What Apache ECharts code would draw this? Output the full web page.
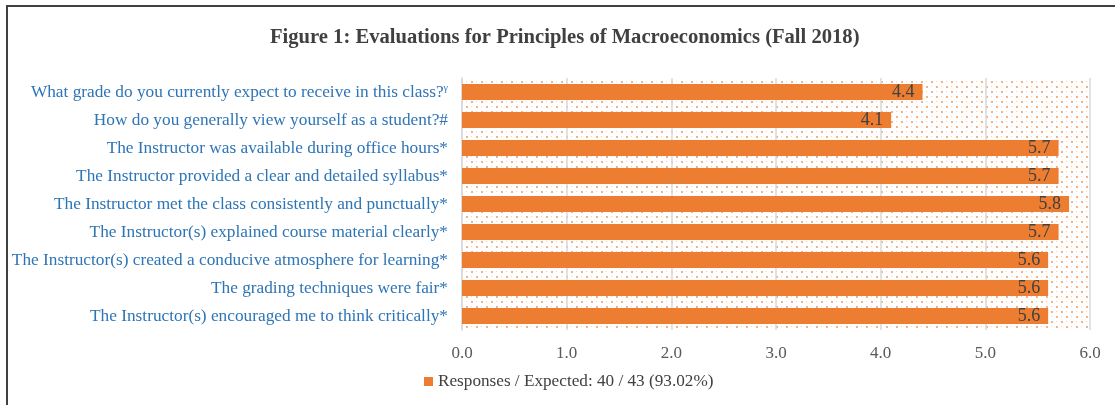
<!DOCTYPE html>
<html>
<head>
<meta charset="utf-8">
<script src="https://cdn.jsdelivr.net/npm/echarts@6/dist/echarts.min.js"></script>
<style>
  html, body { margin: 0; padding: 0; background: #fff; }
  #chart { width: 1115px; height: 405px; }
</style>
</head>
<body>
<div id="chart"></div>
<script>
// survey items, top to bottom
var questions = [
  "What grade do you currently expect to receive in this class?\u03b3",
  "How do you generally view yourself as a student?#",
  "The Instructor was available during office hours*",
  "The Instructor provided a clear and detailed syllabus*",
  "The Instructor met the class consistently and punctually*",
  "The Instructor(s) explained course material clearly*",
  "The Instructor(s) created a conducive atmosphere for learning*",
  "The grading techniques were fair*",
  "The Instructor(s) encouraged me to think critically*"
];
var scores = [4.4, 4.1, 5.7, 5.7, 5.8, 5.7, 5.6, 5.6, 5.6];
var seriesName = "Responses / Expected: 40 / 43 (93.02%)";
var titleText = "Figure 1: Evaluations for Principles of Macroeconomics (Fall 2018)";

// dotted fill for the plot area
function dotPattern() {
  var c = document.createElement("canvas");
  c.width = 10;
  c.height = 10;
  var ctx = c.getContext("2d");
  ctx.fillStyle = "#fff";
  ctx.fillRect(0, 0, 10, 10);
  ctx.fillStyle = "rgba(237,125,49,0.6)";
  ctx.fillRect(1, 1, 2, 2);
  ctx.fillRect(6, 6, 2, 2);
  ctx.fillStyle = "rgba(237,125,49,0.35)";
  ctx.fillRect(6, 1, 1, 1);
  ctx.fillRect(1, 6, 1, 1);
  return c;
}

var serif = "'Liberation Serif', 'Times New Roman', serif";
var chart = echarts.init(document.getElementById("chart"));

chart.setOption({
  animation: false,
  title: {
    text: titleText,
    left: 265,
    top: 22,
    textStyle: { fontFamily: serif, fontSize: 20.6, fontWeight: "bold", color: "#404040" }
  },
  legend: {
    left: 419,
    top: 368,
    icon: "rect",
    itemWidth: 9,
    itemHeight: 9,
    itemGap: 3,
    textStyle: { fontFamily: serif, fontSize: 17.2, color: "#404040" },
    data: [seriesName]
  },
  grid: {
    left: 462,
    right: 25,
    top: 78,
    bottom: 75,
    show: true,
    borderWidth: 0,
    backgroundColor: { image: dotPattern(), repeat: "repeat" }
  },
  xAxis: {
    type: "value",
    min: 0,
    max: 6,
    interval: 1,
    axisLine: { show: false },
    axisTick: { show: false },
    splitLine: { lineStyle: { color: "#d9d9d9", width: 1.5 } },
    axisLabel: {
      margin: 15,
      fontFamily: serif,
      fontSize: 17,
      color: "#595959",
      formatter: function (v) { return v.toFixed(1); }
    }
  },
  yAxis: {
    type: "category",
    inverse: true,
    data: questions,
    axisLine: { show: true, lineStyle: { color: "#d9d9d9", width: 1.5 } },
    axisTick: { show: false },
    axisLabel: {
      margin: 14,
      fontFamily: serif,
      fontSize: 17.3,
      color: "#2e75b6",
      formatter: function (v) {
        var last = v.charAt(v.length - 1);
        if (last === "\u03b3") {
          return v.slice(0, -1) + "{sup|\u03b3}";
        }
        return v;
      },
      rich: {
        sup: { fontFamily: serif, fontSize: 10, color: "#2e75b6", verticalAlign: "top", padding: [0, 0, 6, 0] }
      }
    }
  },
  series: [
    {
      name: seriesName,
      type: "bar",
      data: scores,
      barCategoryGap: "43%",
      itemStyle: { color: "#ed7d31" },
      label: {
        show: true,
        position: "insideRight",
        distance: 8,
        fontFamily: serif,
        fontSize: 18,
        color: "#404040",
        formatter: function (p) { return p.value.toFixed(1); }
      }
    }
  ],
  graphic: [
    { type: "line", shape: { x1: 7, y1: 6, x2: 1115, y2: 6 }, style: { stroke: "#404040", lineWidth: 2 } },
    { type: "line", shape: { x1: 7, y1: 5, x2: 7, y2: 405 }, style: { stroke: "#404040", lineWidth: 2 } }
  ]
});
</script>
</body>
</html>
